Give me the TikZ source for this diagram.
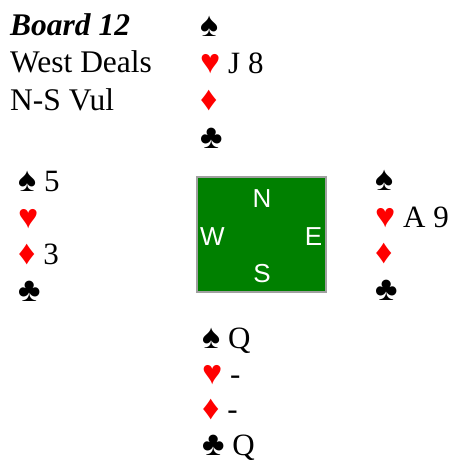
\documentclass[tikz,border=0pt]{standalone}
\usepackage{fontspec}
\setmainfont{Liberation Serif}
\newfontfamily\compassfont{Liberation Sans}
\definecolor{felt}{RGB}{0,128,0}
\definecolor{rim}{RGB}{160,160,160}
\newcommand{\Sp}{\scalebox{1.1}{♠}}
\newcommand{\Hr}{\textcolor{red}{\scalebox{1.1}{♥}}}
\newcommand{\Dm}{\textcolor{red}{\scalebox{1.1}{♦}}}
\newcommand{\Cl}{\scalebox{1.1}{♣}}

\begin{document}
\begin{tikzpicture}[x=1pt, y=-1pt,
    hand/.style={anchor=base west, inner sep=0pt, align=left,
      font=\fontsize{31}{36.5}\selectfont},
    seat/.style={anchor=base, inner sep=0pt, text=white,
      font=\compassfont\fontsize{26}{26}\selectfont}]
  \useasboundingbox (0,0) rectangle (451,461);
  % Deal information (placed by its last line)
  \node[hand, font=\fontsize{31.5}{37.3}\selectfont] (info) at (10,110)
    {\textbf{\textit{Board 12}}\\West Deals\\N-S Vul};
  % Table with seats
  \node[draw=rim, line width=1.5pt, fill=felt, minimum width=129,
    minimum height=115, inner sep=0pt] (table) at (261.5,234.5) {};
  \node[seat] (n) at (262,207) {N};
  \node[seat] (w) at (212.5,245) {W};
  \node[seat] (e) at (313.5,245) {E};
  \node[seat] (s) at (262,282) {S};
  % Hands (placed by their club line)
  \node[hand, font=\fontsize{31}{37.3}\selectfont] (north) at (200,148)
    {\Sp\\\Hr{} J 8\\\Dm\\\Cl};
  \node[hand] (west) at (18,301) {\Sp{} 5\\\Hr\\\Dm{} 3\\\Cl};
  \node[hand] (east) at (375,300) {\Sp\\\Hr{} A 9\\\Dm\\\Cl};
  \node[hand, font=\fontsize{31}{35.5}\selectfont] (south) at (202,455)
    {\Sp{} Q\\\Hr{} -\\\Dm{} -\\\Cl{} Q};
\end{tikzpicture}
\end{document}
